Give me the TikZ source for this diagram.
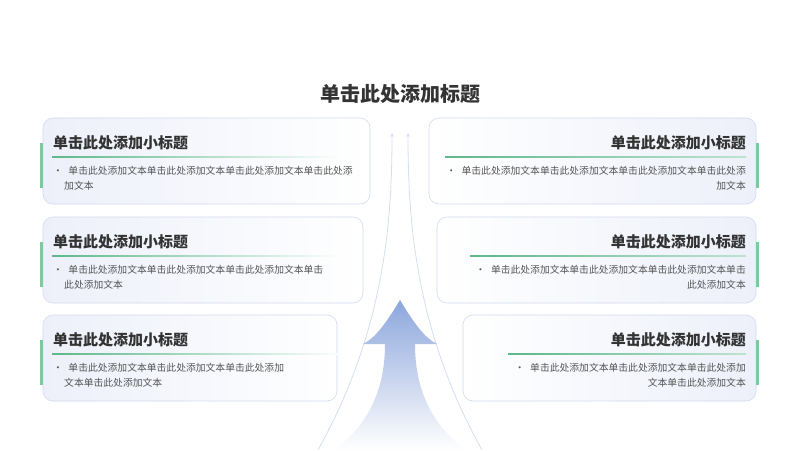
\documentclass[tikz,border=0pt]{standalone}
\usepackage{fontspec}
\setmainfont{Noto Sans CJK SC}
\begin{document}
\begin{tikzpicture}[x=1pt,y=-1pt,
 card/.style={draw=cardline,line width=0.6pt,rounded corners=10pt},
 head/.style={font=\fontsize{15}{18}\selectfont\bfseries,text=darktext,inner sep=0pt},
 body/.style={font=\fontsize{9.8}{15}\selectfont,text=bodytext,inner sep=0pt},
 gbar/.style={fill=greenbar,draw=none},
 thin/.style={draw=arrline,line width=0.8pt}]
\definecolor{cardline}{HTML}{D3DAEE}
\definecolor{cardfill}{HTML}{EDF0FA}
\definecolor{darktext}{HTML}{333333}
\definecolor{bodytext}{HTML}{555555}
\definecolor{greenbar}{HTML}{7CCB9F}
\definecolor{greenline}{HTML}{5DB88A}
\definecolor{arrline}{HTML}{D5DDF0}
\definecolor{arrblue}{HTML}{8CA6DC}
\useasboundingbox[fill=white] (0,0) rectangle (800,450);
\node[font=\fontsize{20}{24}\selectfont\bfseries,text=darktext] (title) at (400,94) {单击此处添加标题};
% thin curved arrows
\coordinate (la) at (392,133); \coordinate (ra) at (408,133);
\coordinate (lb) at (318,450); \coordinate (rb) at (482,450);
\draw[thin,-stealth] (lb) .. controls (385,330) and (392,220) .. (la);
\draw[thin,-stealth] (rb) .. controls (415,330) and (408,220) .. (ra);
% big arrow
\shade[top color=arrblue,bottom color=white,draw=none]
 (400,300) .. controls (385,325) and (375,338) .. (363,344) -- (385,344)
 .. controls (385,400) and (360,430) .. (335,450) -- (465,450)
 .. controls (440,430) and (415,400) .. (415,344) -- (437,344)
 .. controls (425,338) and (415,325) .. (400,300) -- cycle;
% left cards
\foreach \i/\y/\r in {1/118/370,2/217/363,3/315/337}{
 \draw[card,left color=cardfill,right color=white] (43,\y) rectangle (\r,\y+86);
 \fill[gbar] (40,\y+25) rectangle (43,\y+70);
 \shade[left color=greenline,right color=white] (52,\y+38.5) rectangle (345,\y+39.5);
 \node[head,anchor=west] (lh\i) at (53,\y+25) {单击此处添加小标题};
}
\foreach \i/\y/\r in {1/118/429,2/217/437,3/315/463}{
 \draw[card,right color=cardfill,left color=white] (\r,\y) rectangle (756,\y+86);
 \fill[gbar] (756,\y+25) rectangle (759,\y+70);
 \node[head,anchor=east] (rh\i) at (746,\y+25) {单击此处添加小标题};
}
\shade[left color=greenline,right color=greenline!40] (445,156.5) rectangle (746,157.5);
\shade[left color=greenline,right color=greenline!40] (470,255.5) rectangle (746,256.5);
\shade[left color=greenline,right color=greenline!40] (508,353.5) rectangle (746,354.5);
% left bodies
\node[body,anchor=north west,align=left] (lb1) at (53,166) {•\hspace{5.5pt}单击此处添加文本单击此处添加文本单击此处添加文本单击此处添\\\hspace{11pt}加文本};
\node[body,anchor=north west,align=left] (lb2) at (53,265) {•\hspace{5.5pt}单击此处添加文本单击此处添加文本单击此处添加文本单击\\\hspace{11pt}此处添加文本};
\node[body,anchor=north west,align=left] (lb3) at (53,363) {•\hspace{5.5pt}单击此处添加文本单击此处添加文本单击此处添加\\\hspace{11pt}文本单击此处添加文本};
% right bodies
\node[body,anchor=north east,align=right] (rb1) at (746,166) {•\hspace{5.5pt}单击此处添加文本单击此处添加文本单击此处添加文本单击此处添\\加文本};
\node[body,anchor=north east,align=right] (rb2) at (746,265) {•\hspace{5.5pt}单击此处添加文本单击此处添加文本单击此处添加文本单击\\此处添加文本};
\node[body,anchor=north east,align=right] (rb3) at (746,363) {•\hspace{5.5pt}单击此处添加文本单击此处添加文本单击此处添加\\文本单击此处添加文本};
\end{tikzpicture}
\end{document}
